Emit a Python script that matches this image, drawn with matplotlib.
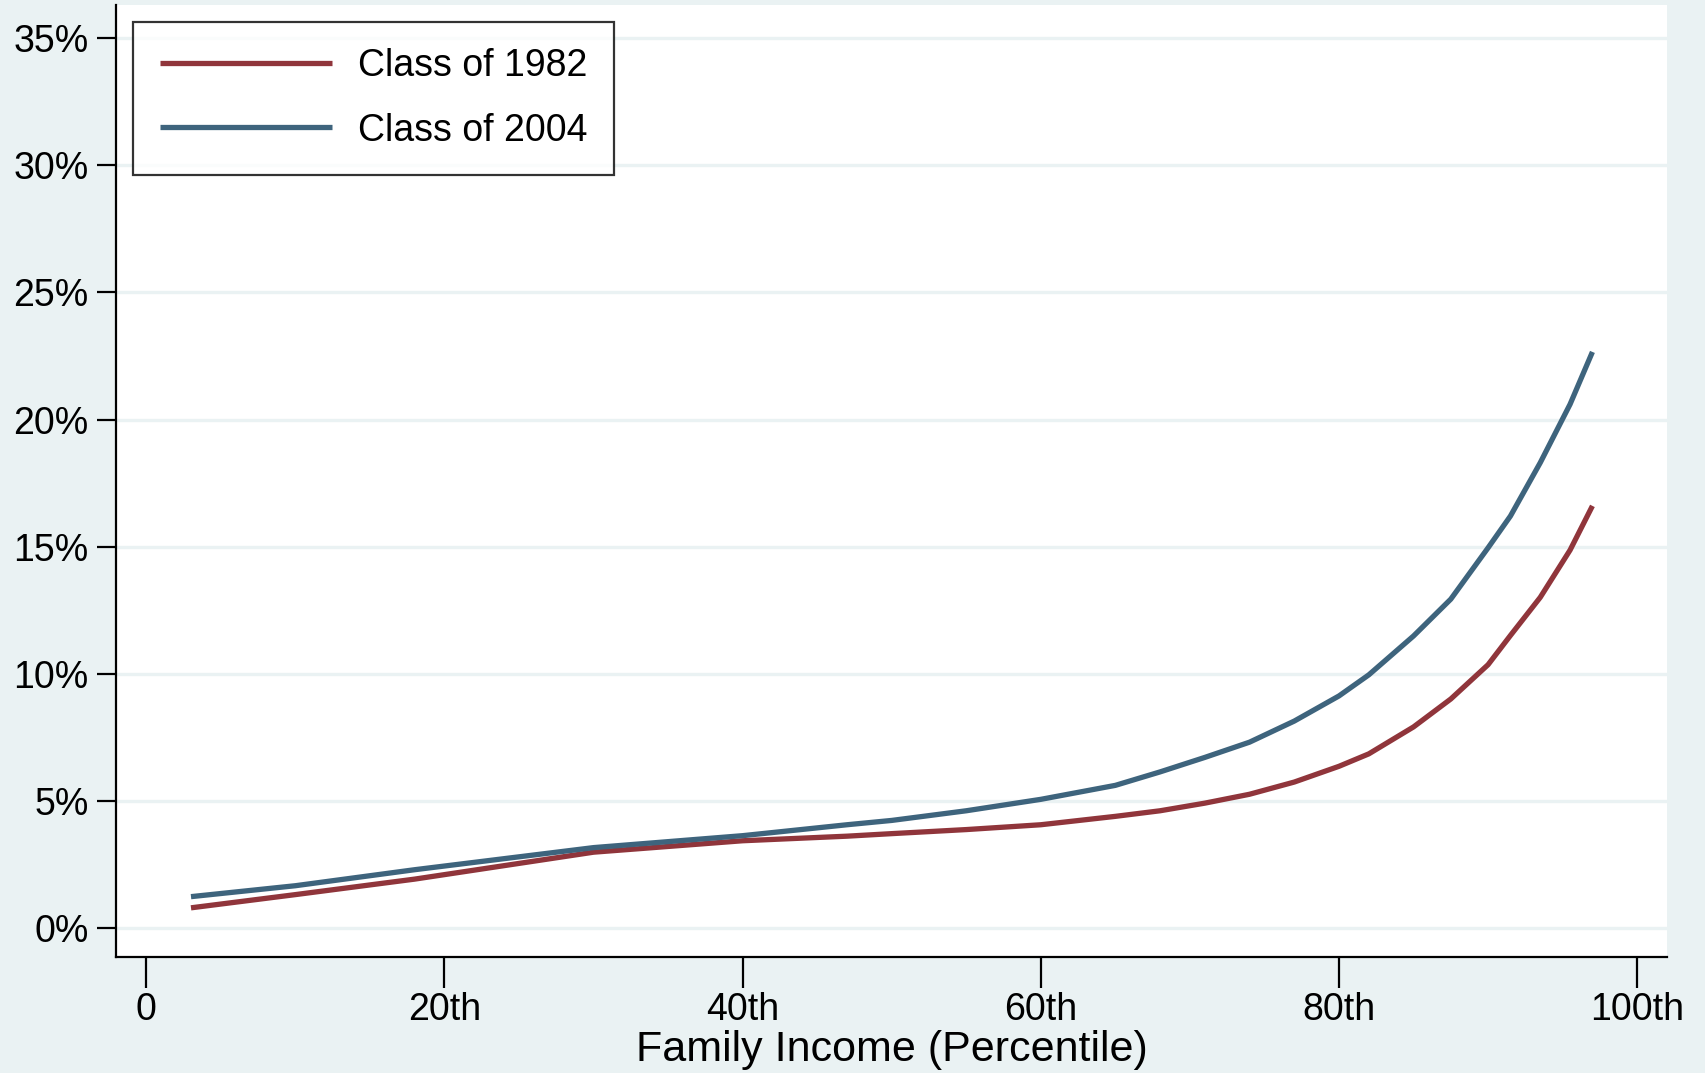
import matplotlib.pyplot as plt
from matplotlib.ticker import FuncFormatter

plt.rcParams['font.family'] = ['Liberation Sans', 'DejaVu Sans']

# family income percentile and share (%) for each class
percentile = [3, 10, 18, 30, 40, 47, 50, 55, 60, 65, 68, 71, 74, 77, 80, 82,
              85, 87.5, 90, 91.5, 93.5, 95.5, 97]
class_1982 = [0.78, 1.3, 1.91, 2.97, 3.42, 3.6, 3.7, 3.86, 4.05, 4.38, 4.6, 4.9,
              5.25, 5.73, 6.35, 6.84, 7.9, 9.0, 10.35, 11.5, 13.0, 14.86, 16.6]
class_2004 = [1.22, 1.65, 2.28, 3.15, 3.62, 4.05, 4.22, 4.6, 5.05, 5.6, 6.13, 6.7,
              7.3, 8.13, 9.12, 9.95, 11.48, 12.93, 14.95, 16.2, 18.3, 20.6, 22.66]

x_ticks = [0, 20, 40, 60, 80, 100]
x_tick_labels = ["0", "20th", "40th", "60th", "80th", "100th"]
y_ticks = [0, 5, 10, 15, 20, 25, 30, 35]

bg = "#EAF2F3"
red = "#90353B"
blue = "#3E647D"

fig = plt.figure(figsize=(17.05, 10.73), dpi=100, facecolor=bg)
ax = fig.add_axes([0.0683, 0.108, 0.9094, 0.887])
ax.set_facecolor("white")

ax.plot(percentile, class_1982, color=red, linewidth=3.8, label="Class of 1982",
        solid_capstyle="butt", solid_joinstyle="round")
ax.plot(percentile, class_2004, color=blue, linewidth=3.8, label="Class of 2004",
        solid_capstyle="butt", solid_joinstyle="round")

ax.set_xlim(-2, 102)
ax.set_ylim(-1.16, 36.3)
ax.set_xticks(x_ticks)
ax.set_xticklabels(x_tick_labels)
ax.set_yticks(y_ticks)
ax.yaxis.set_major_formatter(FuncFormatter(lambda v, p: f"{int(v)}%"))

ax.grid(axis="y", color=bg, linewidth=2.4)
ax.set_axisbelow(True)

for s in ["top", "right"]:
    ax.spines[s].set_visible(False)
for s in ["left", "bottom"]:
    ax.spines[s].set_linewidth(1.6)

ax.tick_params(axis="y", length=14, width=1.6, labelsize=27, pad=6)
ax.tick_params(axis="x", length=22, width=1.6, labelsize=27, pad=3)

ax.set_xlabel("Family Income (Percentile)", fontsize=31, va="center")
ax.xaxis.set_label_coords(0.5, -0.0975)

leg = ax.legend(loc="upper left", fontsize=27, frameon=True, fancybox=False,
                edgecolor="black", handlelength=4.6, handletextpad=0.7,
                borderpad=0.7, labelspacing=0.75, borderaxespad=0.45)
leg.get_frame().set_linewidth(1.6)

plt.savefig("out.png", dpi=100, facecolor=bg)
plt.close()
